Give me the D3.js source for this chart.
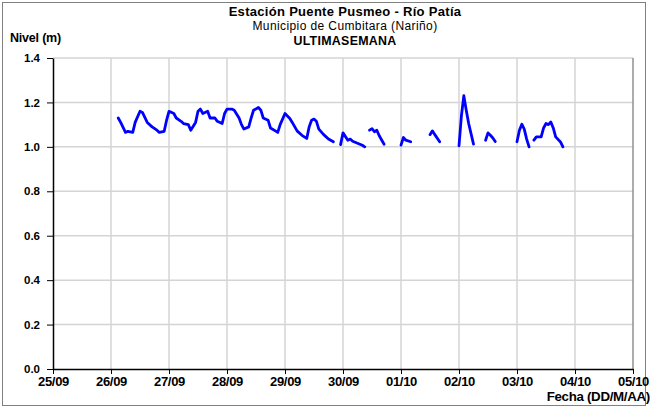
<!DOCTYPE html>
<html>
<head>
<meta charset="utf-8">
<script src="https://cdn.jsdelivr.net/npm/d3@7"></script>
<style>
  body { margin: 0; background: #fff; }
  text { font-family: "Liberation Sans", Arial, sans-serif; }
</style>
</head>
<body>
<svg id="chart" width="651" height="411"></svg>
<script>
// nivel horario (dd/mm HH), null = sin dato
let fechas = [
  "26/09 03","26/09 04","26/09 06","26/09 07","26/09 09","26/09 10","26/09 12","26/09 13","26/09 15","26/09 17",
  "26/09 19","26/09 20","26/09 22","26/09 23","27/09 00","27/09 02","27/09 03","27/09 05","27/09 06","27/09 08",
  "27/09 09","27/09 11","27/09 12","27/09 13","27/09 14","27/09 16","27/09 17","27/09 19","27/09 20","27/09 22",
  "27/09 23","28/09 00","28/09 02","28/09 03","28/09 05","28/09 06","28/09 07","28/09 09","28/09 10","28/09 11",
  "28/09 13","28/09 14","28/09 15","28/09 17","28/09 18","28/09 20","28/09 21","28/09 22","29/09 00","29/09 02",
  "29/09 03","29/09 05","29/09 07","29/09 09","29/09 10","29/09 11","29/09 12","29/09 13","29/09 14","29/09 16",
  "29/09 18","29/09 20","29/09 21",
  "29/09 23","30/09 00","30/09 02","30/09 03","30/09 04","30/09 06","30/09 08","30/09 09","30/09 10",
  "30/09 11","30/09 12","30/09 13","30/09 14","30/09 15","30/09 17","30/09 18",
  "01/10 00","01/10 01","01/10 02","01/10 04","01/10 05",
  "01/10 12","01/10 13","01/10 14","01/10 16","01/10 17",
  "02/10 00","02/10 01","02/10 02","02/10 03","02/10 04","02/10 06","02/10 07",
  "02/10 11","02/10 12","02/10 13","02/10 14","02/10 15","02/10 16",
  "03/10 00","03/10 01","03/10 02","03/10 03","03/10 04","03/10 05","03/10 06",
  "03/10 07","03/10 08","03/10 10","03/10 11","03/10 12","03/10 13","03/10 14","03/10 15","03/10 16","03/10 18","03/10 19"
];
let niveles = [
  1.13,1.11,1.065,1.07,1.065,1.11,1.16,1.155,1.11,1.09,
  1.075,1.065,1.07,1.12,1.16,1.15,1.13,1.115,1.105,1.10,
  1.075,1.11,1.16,1.17,1.15,1.16,1.13,1.13,1.115,1.105,
  1.15,1.17,1.17,1.165,1.13,1.10,1.08,1.09,1.13,1.165,
  1.177,1.165,1.13,1.12,1.085,1.072,1.065,1.10,1.15,1.128,
  1.11,1.072,1.052,1.038,1.09,1.12,1.125,1.115,1.08,1.055,
  1.035,1.023,null,
  1.01,1.063,1.03,1.035,1.025,1.016,1.007,1.0,null,
  1.075,1.082,1.068,1.075,1.05,1.012,null,
  1.008,1.042,1.03,1.023,null,
  1.055,1.072,1.055,1.023,null,
  1.005,1.14,1.23,1.165,1.105,1.012,null,
  1.03,1.063,1.052,1.04,1.024,null,
  1.023,1.075,1.102,1.08,1.035,1.0,null,
  1.03,1.045,1.045,1.085,1.105,1.1,1.112,1.085,1.045,1.022,1.0
];
let diasEje = ["25/09","26/09","27/09","28/09","29/09","30/09","01/10","02/10","03/10","04/10","05/10"];
let ticksY = [0, 0.2, 0.4, 0.6, 0.8, 1.0, 1.2, 1.4];

let parse = d3.utcParse("%d/%m %H");
let parseDia = d3.utcParse("%d/%m");
let data = fechas.map((f, i) => ({ t: parse(f), v: niveles[i] }));
let dias = diasEje.map(d => parseDia(d));

let svg = d3.select("#chart");
let xIzq = 53, xDer = 633, yArr = 58, yAbj = 369;

// marco exterior
svg.append("rect")
  .attr("x", 2.5).attr("y", 2.5).attr("width", 643).attr("height", 403)
  .attr("fill", "none").attr("stroke", "#808080").attr("stroke-width", 1);

let x = d3.scaleUtc().domain([dias[0], dias[dias.length - 1]]).range([xIzq, xDer]);
let y = d3.scaleLinear().domain([0, 1.4]).range([yAbj, yArr]);

// rejilla
let grid = svg.append("g");
grid.selectAll(".gh").data(ticksY.slice(1)).enter().append("line")
  .attr("x1", xIzq).attr("x2", xDer)
  .attr("y1", d => y(d)).attr("y2", d => y(d))
  .attr("stroke", "#d4d4d4").attr("stroke-width", 1.5);
grid.selectAll(".gv").data(dias.slice(1)).enter().append("line")
  .attr("x1", d => x(d)).attr("x2", d => x(d))
  .attr("y1", yArr).attr("y2", yAbj)
  .attr("stroke", (d, i) => i == dias.length - 2 ? "#909090" : "#d4d4d4")
  .attr("stroke-width", 1.5);

// ejes
let xAxis = d3.axisBottom(x).tickValues(dias).tickFormat(d3.utcFormat("%d/%m")).tickSize(5).tickSizeOuter(0);
let gx = svg.append("g").attr("transform", `translate(0,${yAbj})`).call(xAxis);
gx.select(".domain").attr("stroke", "#000").attr("stroke-width", 1.5);
gx.selectAll("line").attr("stroke", "#000");
gx.selectAll("text").attr("font-size", 13).attr("font-weight", "bold").attr("fill", "#000")
  .attr("y", 7).attr("dy", "0.75em").attr("letter-spacing", "-0.3");

let yAxis = d3.axisLeft(y).tickValues(ticksY).tickFormat(d3.format(".1f")).tickSize(6).tickSizeOuter(0);
let gy = svg.append("g").attr("transform", `translate(${xIzq},0)`).call(yAxis);
gy.select(".domain").attr("stroke", "#000").attr("stroke-width", 1.5);
gy.selectAll("line").attr("stroke", "#000");
gy.selectAll("text").attr("font-size", 11.5).attr("font-weight", "bold").attr("fill", "#000").attr("x", -13);

// serie
let line = d3.line()
  .defined(d => d.v != null)
  .x(d => x(d.t))
  .y(d => y(d.v));
svg.append("path").datum(data)
  .attr("d", line)
  .attr("fill", "none")
  .attr("stroke", "#0000ff")
  .attr("stroke-width", 2.8)
  .attr("stroke-linejoin", "round")
  .attr("stroke-linecap", "round");

// textos
svg.append("text").attr("x", 345).attr("y", 16).attr("text-anchor", "middle")
  .attr("font-size", 13).attr("font-weight", "bold").attr("letter-spacing", "0.3")
  .text("Estación Puente Pusmeo - Río Patía");
svg.append("text").attr("x", 345).attr("y", 30).attr("text-anchor", "middle")
  .attr("font-size", 12).attr("letter-spacing", "0.4")
  .text("Municipio de Cumbitara (Nariño)");
svg.append("text").attr("x", 345).attr("y", 45).attr("text-anchor", "middle")
  .attr("font-size", 12.4).attr("font-weight", "bold").attr("letter-spacing", "0.3")
  .text("ULTIMASEMANA");
svg.append("text").attr("x", 10).attr("y", 42)
  .attr("font-size", 12.5).attr("font-weight", "bold").attr("letter-spacing", "-0.2")
  .text("Nivel (m)");
svg.append("text").attr("x", 650).attr("y", 401).attr("text-anchor", "end")
  .attr("font-size", 13.3).attr("font-weight", "bold").attr("letter-spacing", "-0.3")
  .text("Fecha (DD/M/AA)");
</script>
</body>
</html>
